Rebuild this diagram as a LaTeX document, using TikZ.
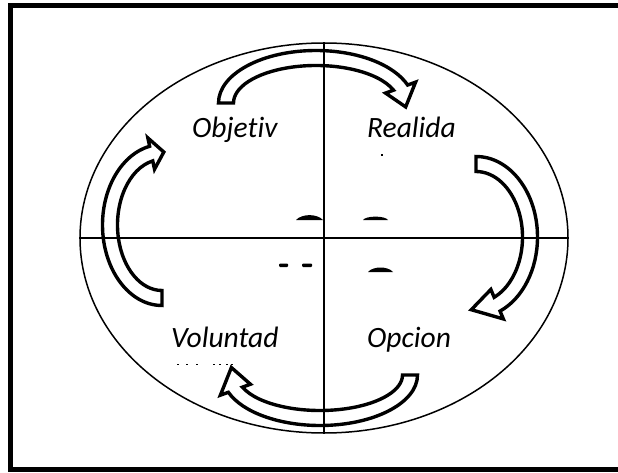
\documentclass[tikz,border=0pt]{standalone}
\usepackage{fontspec}
\setmainfont{Carlito}[Ligatures=NoCommon]
\usetikzlibrary{
	shapes.geometric
}

\def\bandw{7.5}
\def\headw{16}
% hollow curved arrow along an ellipse: cx, cy, rx, ry, start, end, tip
\newcommand{\curvedblock}[7]{%
	\draw[blockarrow]
	({#1+(#3+\bandw)*cos(#5)},{#2+(#4+\bandw)*sin(#5)})
	arc[start angle=#5, end angle=#6, x radius=#3+\bandw, y radius=#4+\bandw]
	-- ({#1+(#3+\headw)*cos(#6)},{#2+(#4+\headw)*sin(#6)})
	-- ({#1+#3*cos(#7)},{#2+#4*sin(#7)})
	-- ({#1+(#3-\headw)*cos(#6)},{#2+(#4-\headw)*sin(#6)})
	-- ({#1+(#3-\bandw)*cos(#6)},{#2+(#4-\bandw)*sin(#6)})
	arc[start angle=#6, end angle=#5, x radius=#3-\bandw, y radius=#4-\bandw]
	-- cycle;}

\begin{document}
\begin{tikzpicture}[x=1pt,y=1pt,
		blockarrow/.style={draw,line width=3.4pt,fill=white,line join=miter},
		phase/.style={font=\fontsize{29.5}{34}\selectfont\itshape,inner sep=0pt,anchor=base west}]
			
			\useasboundingbox (0,0) rectangle (618,472);
			\clip (0,0) rectangle (618,472);
			
			\draw[line width=5pt] (10.5,2.5) rectangle (640,466.5);
			
			\node[ellipse,draw,line width=1.5pt,minimum width=488pt,minimum height=390pt,inner sep=0pt] (ring) at (324,234) {};
			
			% the four turning arrows
			\curvedblock{316}{369}{90}{45}{180}{20}{-5}
			\curvedblock{476}{235}{54}{73}{90}{-67}{-95}
			\curvedblock{320}{97}{90}{43}{0}{-160}{-190}
			\curvedblock{162}{247}{52}{73}{-90}{-258}{-272}
			
			\draw[line width=1.8pt] (ring.north)--(ring.south);
			\draw[line width=1.5pt] (ring.west)--(ring.east);
			
			\node[phase] (obj) at (192,334) {Objetiv};
			\node[phase] (real) at (367,334) {Realida};
			\node[phase] (vol) at (171,125) {Voluntad};
			\node[phase] (opc) at (367,125) {Opcion};
			
			% clipped pieces of hidden text
			\fill (296,252) .. controls (302,258.5) and (317,258.5) .. (323,252) -- cycle;
			\fill (363,252) .. controls (366,256.5) and (385,256.5) .. (388,252) -- cycle;
			\fill[rounded corners=1pt] (279,205) rectangle (288,208.5);
			\fill[rounded corners=1pt] (302,205) rectangle (312,208.5);
			\fill (368,200) .. controls (373,206) and (388,206) .. (393,200) -- cycle;
			\fill (381,316) rectangle (383,318);
			\foreach \px in {177,186,196,213,219,226,231}
			\fill (\px,107) rectangle ++(2,1.5);
			
		\end{tikzpicture}
\end{document}
